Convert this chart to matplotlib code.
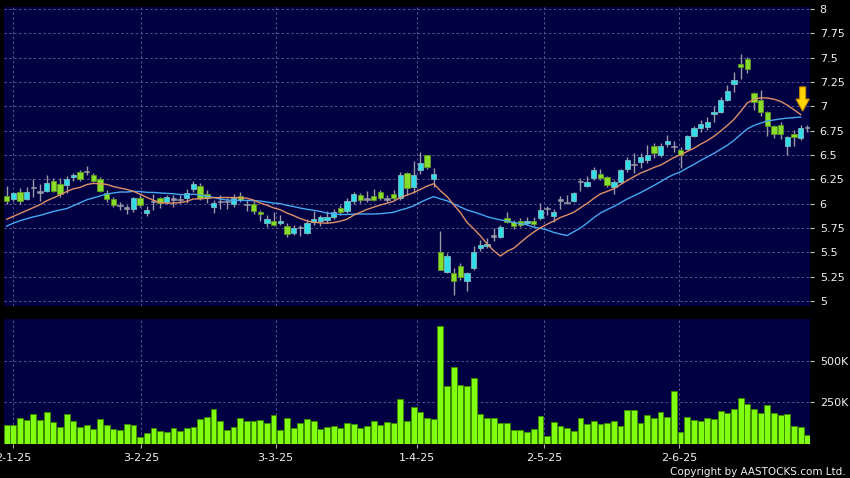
import numpy as np
import pandas as pd
import matplotlib
matplotlib.use("Agg")
import matplotlib.pyplot as plt
from matplotlib.patches import FancyArrow

# ---------------- data ----------------
opens = [6.08, 6.045, 6.12, 6.045, 6.164, 6.12, 6.13, 6.23, 6.20, 6.19,
         6.27, 6.33, 6.33, 6.30, 6.25, 6.11, 6.05, 5.98, 5.955, 5.945,
         6.055, 5.90, 6.02, 6.055, 6.02, 6.05, 6.04, 6.06, 6.15, 6.18,
         6.10, 5.97, 6.02, 6.02, 6.00, 6.08, 5.99, 6.00, 5.915, 5.80,
         5.82, 5.80, 5.77, 5.70, 5.757, 5.70, 5.81, 5.82, 5.83, 5.86,
         5.96, 5.92, 6.03, 6.09, 6.05, 6.08, 6.12, 6.05, 6.10, 6.055,
         6.32, 6.175, 6.35, 6.50, 6.25, 5.50, 5.295, 5.285, 5.36, 5.205,
         5.34, 5.55, 5.57, 5.668, 5.66, 5.855, 5.81, 5.82, 5.80, 5.825,
         5.85, 5.952, 5.87, 6.037, 6.01, 6.03, 6.226, 6.18, 6.26, 6.305,
         6.275, 6.17, 6.225, 6.355, 6.40, 6.43, 6.45, 6.59, 6.50, 6.61,
         6.585, 6.55, 6.56, 6.70, 6.775, 6.79, 6.92, 6.945, 7.065, 7.225,
         7.44, 7.49, 7.14, 7.07, 6.945, 6.80, 6.81, 6.59, 6.72, 6.68,
         6.785]
highs = [6.18, 6.12, 6.16, 6.17, 6.25, 6.20, 6.30, 6.26, 6.26, 6.28,
         6.32, 6.35, 6.39, 6.32, 6.27, 6.14, 6.07, 6.02, 5.99, 6.07,
         6.09, 5.98, 6.10, 6.07, 6.09, 6.09, 6.09, 6.15, 6.23, 6.21,
         6.14, 6.04, 6.09, 6.06, 6.10, 6.12, 6.04, 6.03, 5.94, 5.88,
         5.91, 5.88, 5.80, 5.78, 5.78, 5.84, 5.92, 5.88, 5.92, 5.945,
         5.99, 6.055, 6.12, 6.11, 6.13, 6.15, 6.14, 6.09, 6.14, 6.33,
         6.33, 6.44, 6.53, 6.50, 6.37, 5.72, 5.49, 5.34, 5.39, 5.30,
         5.565, 5.63, 5.645, 5.75, 5.78, 5.91, 5.83, 5.85, 5.86, 5.86,
         6.01, 5.98, 5.95, 6.08, 6.09, 6.12, 6.26, 6.28, 6.38, 6.36,
         6.285, 6.24, 6.36, 6.48, 6.52, 6.52, 6.60, 6.62, 6.62, 6.71,
         6.64, 6.58, 6.71, 6.80, 6.86, 6.89, 7.00, 7.10, 7.22, 7.35,
         7.54, 7.51, 7.15, 7.17, 6.95, 6.81, 6.84, 6.70, 6.76, 6.81,
         6.81]
lows = [6.00, 6.03, 6.00, 6.04, 6.07, 6.03, 6.12, 6.12, 6.07, 6.11,
        6.23, 6.23, 6.30, 6.22, 6.12, 6.02, 5.97, 5.935, 5.89, 5.91,
        5.97, 5.87, 5.935, 5.96, 6.00, 5.97, 6.01, 6.01, 6.12, 6.04,
        6.01, 5.90, 5.95, 5.95, 5.97, 6.02, 5.92, 5.89, 5.82, 5.76,
        5.77, 5.78, 5.66, 5.68, 5.67, 5.69, 5.78, 5.77, 5.80, 5.84,
        5.884, 5.90, 6.00, 6.01, 6.02, 6.027, 6.04, 6.02, 6.04, 6.04,
        6.09, 6.11, 6.31, 6.36, 6.17, 5.32, 5.285, 5.06, 5.216, 5.10,
        5.32, 5.517, 5.54, 5.62, 5.645, 5.80, 5.737, 5.76, 5.78, 5.77,
        5.83, 5.884, 5.815, 5.95, 5.997, 6.02, 6.133, 6.168, 6.243, 6.243,
        6.175, 6.10, 6.21, 6.33, 6.32, 6.363, 6.414, 6.466, 6.48, 6.585,
        6.534, 6.37, 6.55, 6.69, 6.74, 6.757, 6.84, 6.935, 7.055, 7.15,
        7.28, 7.34, 6.96, 6.90, 6.70, 6.67, 6.664, 6.50, 6.59, 6.654,
        6.74]
closes = [6.03, 6.107, 6.03, 6.117, 6.164, 6.12, 6.21, 6.13, 6.10, 6.25,
          6.30, 6.25, 6.33, 6.23, 6.13, 6.05, 5.99, 5.98, 5.955, 6.06,
          5.99, 5.94, 6.02, 6.01, 6.07, 6.05, 6.04, 6.11, 6.20, 6.06,
          6.06, 6.01, 6.02, 6.02, 6.055, 6.04, 5.99, 5.92, 5.895, 5.84,
          5.78, 5.82, 5.685, 5.75, 5.757, 5.80, 5.845, 5.86, 5.86, 5.91,
          5.91, 6.03, 6.10, 6.04, 6.05, 6.04, 6.06, 6.05, 6.055, 6.295,
          6.16, 6.295, 6.42, 6.375, 6.305, 5.32, 5.465, 5.205, 5.245, 5.285,
          5.505, 5.58, 5.59, 5.668, 5.76, 5.815, 5.775, 5.78, 5.825, 5.79,
          5.94, 5.952, 5.915, 6.037, 6.01, 6.105, 6.226, 6.225, 6.345, 6.26,
          6.19, 6.225, 6.345, 6.45, 6.40, 6.48, 6.50, 6.525, 6.59, 6.645,
          6.585, 6.50, 6.695, 6.775, 6.82, 6.84, 6.945, 7.07, 7.16, 7.27,
          7.40, 7.38, 7.05, 6.945, 6.80, 6.715, 6.715, 6.69, 6.69, 6.775,
          6.785]
volumes_k = [114, 110, 154, 142, 180, 144, 188, 132, 98, 178,
             136, 100, 114, 90, 146, 112, 90, 80, 116, 110,
             38, 64, 94, 74, 72, 96, 76, 92, 98, 146,
             160, 210, 134, 82, 102, 152, 134, 134, 142, 124,
             170, 84, 156, 94, 126, 150, 134, 90, 100, 106,
             94, 124, 120, 94, 108, 138, 114, 132, 124, 268,
             138, 222, 194, 154, 150, 714, 348, 464, 352, 346,
             398, 180, 152, 156, 124, 126, 84, 84, 72, 90,
             164, 46, 130, 108, 96, 78, 152, 116, 138, 118,
             126, 134, 104, 202, 204, 124, 174, 152, 194, 160,
             318, 72, 160, 144, 138, 154, 146, 196, 182, 212,
             276, 238, 212, 186, 232, 184, 170, 180, 106, 100,
             52]

# moving-average values before a full window exists
ma10_head = [5.84, 5.87, 5.90, 5.93, 5.96, 5.99, 6.03, 6.06, 6.09]
ma20_head = [5.77, 5.80, 5.825, 5.845, 5.865, 5.88, 5.90, 5.92, 5.935, 5.95,
             5.98, 6.01, 6.04, 6.06, 6.08, 6.10, 6.11, 6.12, 6.12]

date_labels = ["2-1-25", "3-2-25", "3-3-25", "1-4-25", "2-5-25", "2-6-25"]
date_pos = [1.0, 20.2, 40.3, 61.5, 80.6, 100.8]

price_ticks = [5, 5.25, 5.5, 5.75, 6, 6.25, 6.5, 6.75, 7, 7.25, 7.5, 7.75, 8]
vol_ticks_k = [250, 500]

arrow_idx, arrow_top, arrow_tip = 119.3, 7.20, 6.95

# ---------------- styling ----------------
BG = "#000000"
PANEL = "#000042"
GRID = "#55558a"
UP = "#33dde8"
UP_EDGE = "#7fb8c0"
DOWN = "#88dd2a"
DOWN_EDGE = "#5e9a22"
DOJI = "#9a9aa8"
WICK = "#9a9aa8"
VOL = "#80ff10"
VOL_EDGE = "#3a8a00"
MA10_C = "#e0906a"
MA20_C = "#45a8f0"
TXT = "#f0f0f0"

o = np.array(opens); h = np.array(highs); l = np.array(lows); c = np.array(closes)
n = len(c)
x = np.arange(n)

ma10 = pd.Series(c).rolling(10).mean().to_numpy()
ma10[:len(ma10_head)] = ma10_head
ma20 = pd.Series(c).rolling(20).mean().to_numpy()
ma20[:len(ma20_head)] = ma20_head
# the reference's averages stop at the previous session
ma10 = ma10[:-1]; ma20 = ma20[:-1]

fig = plt.figure(figsize=(8.5, 4.78), dpi=100, facecolor=BG)
axp = fig.add_axes([4/850, 1-306/478, 806/850, 299.3/478], facecolor=PANEL)
axv = fig.add_axes([4/850, 1-443.5/478, 806/850, 124.5/478], facecolor=PANEL)

for ax in (axp, axv):
    for s in ax.spines.values():
        s.set_visible(False)
    ax.set_xlim(-0.4, n - 0.6)
    ax.set_xticks(date_pos)
    ax.grid(True, color=GRID, linestyle=(0, (2.5, 2.5)), linewidth=0.7)
    ax.set_axisbelow(True)

# ---- price panel ----
axp.set_ylim(4.949, 8.024)
axp.set_yticks(price_ticks)
axp.set_yticklabels([f"{t:g}" for t in price_ticks])
axp.yaxis.tick_right()
axp.tick_params(axis="y", colors="#c8c8c8", labelcolor=TXT, labelsize=8,
                length=3, width=0.8, pad=4)
axp.tick_params(axis="x", length=0, labelbottom=False)

axp.vlines(x, l, h, color=WICK, linewidth=1.0, zorder=2)
up = c > o
dn = c < o
dj = c == o
axp.bar(x[up], (c - o)[up], bottom=o[up], width=0.8, color=UP,
        edgecolor=UP_EDGE, linewidth=0.6, zorder=3)
axp.bar(x[dn], (o - c)[dn], bottom=c[dn], width=0.8, color=DOWN,
        edgecolor=DOWN_EDGE, linewidth=0.6, zorder=3)
axp.bar(x[dj], np.full(dj.sum(), 0.014), bottom=c[dj] - 0.007, width=0.8,
        color=DOJI, edgecolor=DOJI, linewidth=0.4, zorder=3)

axp.plot(x[:-1], ma20, color=MA20_C, linewidth=1.0, zorder=4)
axp.plot(x[:-1], ma10, color=MA10_C, linewidth=1.0, zorder=4)

arr = FancyArrow(arrow_idx, arrow_top, 0, arrow_tip - arrow_top, width=0.9,
                 head_width=2.0, head_length=0.125, length_includes_head=True,
                 facecolor="#ffd400", edgecolor="#c88a00", linewidth=0.8,
                 zorder=6)
axp.add_patch(arr)

# ---- volume panel ----
vol = np.array(volumes_k) * 1000
axv.bar(x, vol, width=0.88, color=VOL, edgecolor=VOL_EDGE, linewidth=0.7,
        zorder=3)
axv.set_ylim(0, 755000)
axv.set_yticks([v * 1000 for v in vol_ticks_k])
axv.set_yticklabels([f"{v}K" for v in vol_ticks_k])
axv.yaxis.tick_right()
axv.tick_params(axis="y", colors="#c8c8c8", labelcolor=TXT, labelsize=8,
                length=3, width=0.8, pad=4)
axv.set_xticklabels(date_labels)
axv.tick_params(axis="x", colors="#b0b0b0", labelcolor=TXT, labelsize=8,
                length=3, width=0.8, pad=4)

fig.text(846/850, 1 - 472/478, "Copyright by AASTOCKS.com Ltd.", color=TXT,
         fontsize=7.5, ha="right", va="center")

fig.savefig("out.png", dpi=100, facecolor=BG)
